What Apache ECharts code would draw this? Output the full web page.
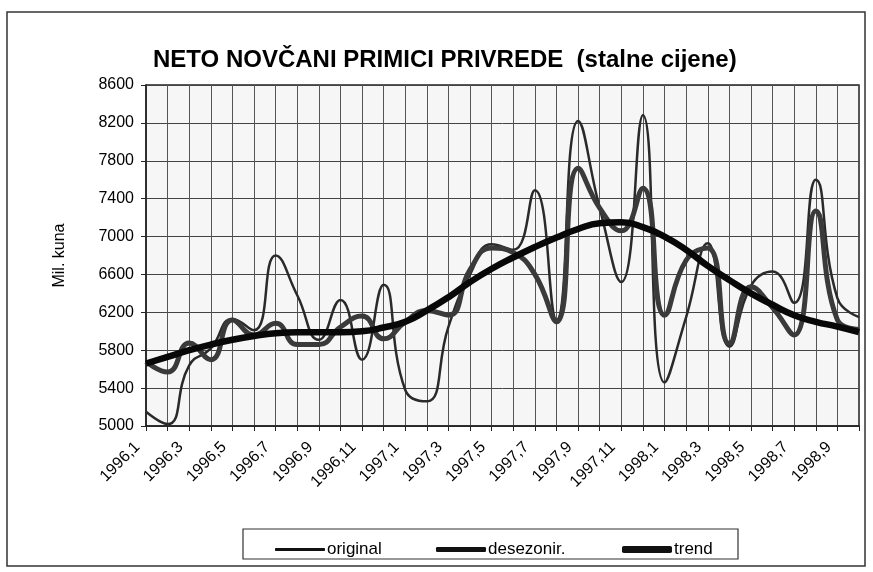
<!DOCTYPE html>
<html>
<head>
<meta charset="utf-8">
<script src="https://cdn.jsdelivr.net/npm/echarts@6/dist/echarts.min.js"></script>
<style>
html, body { margin: 0; background: #fff; }
#main { width: 873px; height: 572px; }
</style>
</head>
<body>
<div id="main"></div>
<script>
const categories = [
    '1996,1', '1996,2', '1996,3', '1996,4', '1996,5', '1996,6', '1996,7', '1996,8', '1996,9', '1996,10', '1996,11', '1996,12',
    '1997,1', '1997,2', '1997,3', '1997,4', '1997,5', '1997,6', '1997,7', '1997,8', '1997,9', '1997,10', '1997,11', '1997,12',
    '1998,1', '1998,2', '1998,3', '1998,4', '1998,5', '1998,6', '1998,7', '1998,8', '1998,9', '1998,10'
]
const original = [5150, 5020, 5640, 5820, 6130, 6010, 6800, 6380, 5910, 6330, 5700, 6490,
    5380, 5260, 6050, 6600, 6920, 6860, 7490, 6120, 8220, 7300, 6520, 8280,
    5460, 6150, 6930, 5840, 6480, 6630, 6300, 7600, 6350, 6150]
const desezonir = [5680, 5570, 5875, 5700, 6120, 5960, 6085, 5860, 5860, 6045, 6160, 5920,
    6100, 6220, 6170, 6650, 6880, 6830, 6600, 6100, 7720, 7300, 7060, 7510,
    6170, 6750, 6880, 5870, 6470, 6250, 5960, 7270, 6120, 6020]
const trend = [5660, 5730, 5800, 5860, 5910, 5950, 5980, 5990, 5990, 5990, 6000, 6040,
    6100, 6220, 6360, 6520, 6660, 6780, 6890, 6990, 7080, 7140, 7150, 7100,
    7000, 6860, 6690, 6540, 6400, 6280, 6170, 6100, 6050, 5990]

const font = "'Liberation Sans', Arial, sans-serif"

var myChart = echarts.init(document.getElementById('main'))

// one legend per series so each sample gets its own thickness
function legendItem(name, left, height) {
    return {
        data: [name],
        left: left,
        top: 536,
        icon: 'roundRect',
        itemWidth: 50,
        itemHeight: height,
        itemStyle: { color: '#111' },
        textStyle: { fontFamily: font, fontSize: 17, color: '#000', padding: [0, 0, 0, -3] },
        selectedMode: false
    }
}

var option = {
    backgroundColor: '#fff',
    animation: false,
    title: {
        text: 'NETO NOVČANI PRIMICI PRIVREDE  (stalne cijene)',
        left: 148,
        top: 43,
        textStyle: { fontFamily: font, fontSize: 24, fontWeight: 'bold', color: '#000' }
    },
    legend: [
        legendItem('original', 270, 3),
        legendItem('desezonir.', 431, 5),
        legendItem('trend', 617, 7)
    ],
    grid: {
        left: 146,
        right: 14,
        top: 85,
        bottom: 146,
        show: true,
        backgroundColor: '#f6f6f6',
        borderColor: '#222',
        borderWidth: 1.5
    },
    xAxis: {
        type: 'category',
        boundaryGap: false,
        data: categories,
        axisLine: { lineStyle: { color: '#222', width: 1.5 } },
        axisTick: { show: true, interval: 0, length: 5, lineStyle: { color: '#222' } },
        axisLabel: {
            interval: 1,
            rotate: 45,
            margin: 10,
            padding: [0, 12, 0, 0],
            fontFamily: font,
            fontSize: 16,
            color: '#000'
        },
        splitLine: { show: true, interval: 0, lineStyle: { color: '#555', width: 1 } }
    },
    yAxis: {
        type: 'value',
        min: 5000,
        max: 8600,
        interval: 400,
        name: 'Mil. kuna',
        nameLocation: 'middle',
        nameGap: 78,
        nameTextStyle: { fontFamily: font, fontSize: 16, color: '#000' },
        axisLine: { show: true, lineStyle: { color: '#222', width: 1.5 } },
        axisTick: { show: true, length: 5, lineStyle: { color: '#222' } },
        axisLabel: {
            margin: 12,
            fontFamily: font,
            fontSize: 16,
            color: '#000',
            formatter: function (v) { return String(v) }
        },
        splitLine: { show: true, lineStyle: { color: '#444', width: 1 } }
    },
    series: [
        {
            name: 'original',
            type: 'line',
            data: original,
            smooth: true,
            symbol: 'none',
            lineStyle: { color: '#2a2a2a', width: 2.5 },
            itemStyle: { color: '#2a2a2a' }
        },
        {
            name: 'desezonir.',
            type: 'line',
            data: desezonir,
            smooth: true,
            symbol: 'none',
            lineStyle: { color: '#3a3a3a', width: 5 },
            itemStyle: { color: '#3a3a3a' }
        },
        {
            name: 'trend',
            type: 'line',
            data: trend,
            smooth: true,
            symbol: 'none',
            lineStyle: { color: '#080808', width: 6.5 },
            itemStyle: { color: '#080808' }
        }
    ],
    graphic: [
        {
            type: 'rect',
            shape: { x: 7, y: 12, width: 858, height: 554 },
            style: { fill: 'none', stroke: '#333', lineWidth: 1.5 },
            silent: true
        },
        {
            type: 'rect',
            shape: { x: 243, y: 529, width: 495, height: 30 },
            style: { fill: 'none', stroke: '#333', lineWidth: 1.2 },
            silent: true
        }
    ]
}
myChart.setOption(option)
</script>
</body>
</html>
